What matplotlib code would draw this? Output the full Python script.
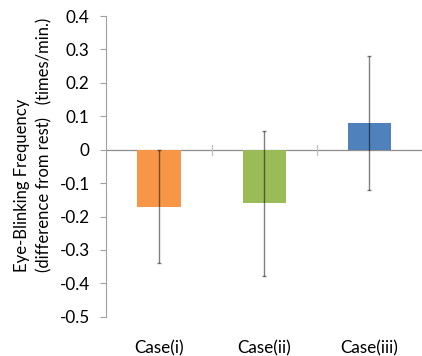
import matplotlib
matplotlib.use("Agg")
import matplotlib.pyplot as plt
import numpy as np

categories = ["Case(i)", "Case(ii)", "Case(iii)"]
values = [-0.17, -0.16, 0.08]
errors = [0.17, 0.217, 0.20]
colors = ["#F79646", "#9BBB59", "#4F81BD"]
yticks = [0.4, 0.3, 0.2, 0.1, 0, -0.1, -0.2, -0.3, -0.4, -0.5]

plt.rcParams['font.family'] = ['Lato', 'DejaVu Sans']

fig = plt.figure(figsize=(4.22, 3.56), dpi=100)
ax = fig.add_axes([0.252, 0.11, 0.748, 0.845])

x = np.arange(len(categories))
ax.bar(x, values, width=0.41, color=colors, zorder=2)
ax.errorbar(x, values, yerr=errors, fmt='none', ecolor=(0, 0, 0, 0.5), elinewidth=1.0,
            capsize=1.2, capthick=1.0, zorder=3)

ax.set_xlim(-0.5, 2.5)
ax.set_ylim(-0.5, 0.4)
ax.set_yticks(yticks)
ax.set_yticklabels([("%g" % v) for v in yticks], fontsize=12.3)
ax.tick_params(axis='y', length=4, color='#a0a0a0', width=0.8, pad=8)

ax.set_xticks(x)
ax.set_xticklabels(categories, fontsize=12.3)
ax.tick_params(axis='x', length=0, pad=17)

for s in ['top', 'right', 'bottom']:
    ax.spines[s].set_visible(False)
ax.spines['left'].set_color('#a0a0a0')
ax.spines['left'].set_linewidth(0.8)

ax.axhline(0, color='#8c8c8c', linewidth=0.9, zorder=1)
for sep in [0.5, 1.5]:
    ax.plot([sep, sep], [-0.015, 0.015], color='#c0c0c0', linewidth=0.9, zorder=1)

ax.set_ylabel("Eye-Blinking Frequency\n(difference from rest)   (times/min.)",
              fontsize=12, multialignment='left', linespacing=1.5)
ax.yaxis.set_label_coords(-0.17, 0.57)

fig.savefig("out.png", dpi=100)
